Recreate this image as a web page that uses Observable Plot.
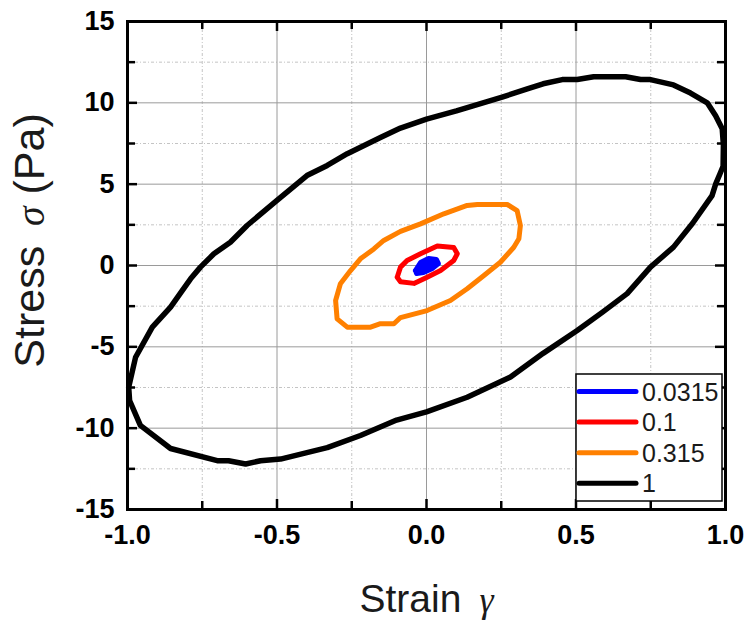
<!DOCTYPE html>
<html>
<head>
<meta charset="utf-8">
<script src="https://cdn.jsdelivr.net/npm/d3@7"></script>
<script src="https://cdn.jsdelivr.net/npm/@observablehq/plot@0.6"></script>
<style>
  body { margin: 0; background: #fff; }
  #chart { width: 749px; height: 621px; }
</style>
</head>
<body>
<div id="chart"></div>
<script>
// Strain amplitudes (legend labels) and their colours
const amplitudes = ["0.0315", "0.1", "0.315", "1"];
const colors = ["#0000ff", "#ff0000", "#ff8000", "#000000"];

// Lissajous loops: strain γ and stress σ (Pa) for each amplitude
const strain_0315 = [-0.037, -0.02, 0.007, 0.033, 0.04, 0.02, -0.01, -0.033];
const stress_0315 = [-0.31, 0.18, 0.43, 0.37, 0.12, -0.18, -0.43, -0.49];

const strain_01 = [-0.098, -0.087, -0.065, -0.02, 0.036, 0.091, 0.103, 0.091, 0.047, 0.002, -0.042, -0.087];
const stress_01 = [-0.72, -0.1, 0.31, 0.72, 1.2, 1.1, 0.72, 0.31, -0.31, -0.72, -1.1, -1.0];

const strain_0315b = [-0.087, -0.143, -0.176, -0.221, -0.254, -0.288, -0.304, -0.299, -0.265, -0.187, -0.154, -0.109, -0.087, 0.002, 0.08, 0.136, 0.192, 0.247, 0.292, 0.309, 0.314, 0.303, 0.27, 0.17, 0.136, 0.058, -0.02];
const stress_0315b = [2.1, 1.54, 1.02, 0.41, -0.31, -1.12, -2.15, -3.28, -3.79, -3.79, -3.58, -3.58, -3.2, -2.77, -2.15, -1.43, -0.61, 0.2, 1.12, 1.64, 2.46, 3.38, 3.75, 3.75, 3.69, 3.18, 2.56];

const strain_1 = [-0.996, -0.973, -0.917, -0.856, -0.817, -0.789, -0.756, -0.711, -0.656, -0.6, -0.5, -0.4, -0.332, -0.265, -0.154, -0.087, 0.0, 0.1, 0.253, 0.337, 0.39, 0.454, 0.504, 0.559, 0.666, 0.716, 0.749, 0.826, 0.883, 0.939, 0.967, 0.989, 0.993, 0.992, 0.983, 0.967, 0.955, 0.89, 0.826, 0.749, 0.671, 0.59, 0.504, 0.39, 0.281, 0.136, 0.0, -0.1, -0.221, -0.332, -0.4, -0.488, -0.555, -0.605, -0.662, -0.7, -0.856, -0.957, -0.993];
const stress_1 = [-7.48, -5.64, -3.79, -2.56, -1.54, -0.82, -0.1, 0.72, 1.43, 2.46, 4.0, 5.53, 6.15, 6.87, 7.87, 8.45, 9.0, 9.5, 10.35, 10.86, 11.17, 11.43, 11.43, 11.6, 11.6, 11.43, 11.43, 11.1, 10.6, 10.0, 9.2, 8.4, 7.4, 6.1, 5.7, 5.0, 4.3, 2.6, 1.13, -0.1, -1.73, -2.85, -4.0, -5.4, -6.86, -8.1, -9.0, -9.5, -10.45, -11.2, -11.5, -11.9, -12.0, -12.2, -12.0, -12.0, -11.25, -9.83, -8.3];

// Axis ticks and grid positions
const xTicks = [-1, -0.5, 0, 0.5, 1];
const xTickLabels = ["-1.0", "-0.5", "0.0", "0.5", "1.0"];
const xMinor = [-0.75, -0.25, 0.25, 0.75];
const xGrid = [-0.5, 0, 0.5];
const yTicks = [-15, -10, -5, 0, 5, 10, 15];
const yMinor = [-12.5, -7.5, -2.5, 2.5, 7.5, 12.5];
const yGrid = [-10, -5, 0, 5, 10];

// Closed loops, drawn largest first so the small ones sit on top
const series = [
  {amp: "1", strain: strain_1, stress: stress_1, width: 5.5, filled: false},
  {amp: "0.315", strain: strain_0315b, stress: stress_0315b, width: 5, filled: false},
  {amp: "0.1", strain: strain_01, stress: stress_01, width: 5, filled: false},
  {amp: "0.0315", strain: strain_0315, stress: stress_0315, width: 5, filled: true}
];
const colorOf = Object.fromEntries(amplitudes.map((a, i) => [a, colors[i]]));

const W = 749, H = 621;
const M = {top: 21, right: 24, bottom: 112, left: 127};
const innerW = W - M.left - M.right;
const innerH = H - M.top - M.bottom;

const loopMarks = series.map(s => {
  const rows = s.strain.map((x, i) => ({x, y: s.stress[i]}));
  rows.push(rows[0]);
  return Plot.line(rows, {
    x: "x", y: "y",
    stroke: colorOf[s.amp], strokeWidth: s.width,
    fill: s.filled ? colorOf[s.amp] : "none",
    strokeLinejoin: "round", strokeLinecap: "round"
  });
});

const plot = Plot.plot({
  width: W,
  height: H,
  marginTop: M.top, marginRight: M.right, marginBottom: M.bottom, marginLeft: M.left,
  style: {fontFamily: "'Liberation Sans', Arial, sans-serif", background: "#fff", color: "#000"},
  x: {domain: [-1, 1]},
  y: {domain: [-15, 15]},
  marks: [
    // grid: dotted minor lines, solid major lines
    Plot.ruleX(xMinor, {x: d => d, stroke: "#c4c4c4", strokeWidth: 1, strokeDasharray: "3,2,1,2"}),
    Plot.ruleY(yMinor, {y: d => d, stroke: "#c4c4c4", strokeWidth: 1, strokeDasharray: "3,2,1,2"}),
    Plot.ruleX(xGrid, {x: d => d, stroke: "#9a9a9a", strokeWidth: 1}),
    Plot.ruleY(yGrid, {y: d => d, stroke: "#9a9a9a", strokeWidth: 1}),
    // inward ticks on all four sides
    Plot.tickX(xTicks, {x: d => d, insetTop: innerH - 10, stroke: "#000", strokeWidth: 2.5}),
    Plot.tickX(xTicks, {x: d => d, insetBottom: innerH - 10, stroke: "#000", strokeWidth: 2.5}),
    Plot.tickX(xMinor, {x: d => d, insetTop: innerH - 8, stroke: "#000", strokeWidth: 2.5}),
    Plot.tickX(xMinor, {x: d => d, insetBottom: innerH - 8, stroke: "#000", strokeWidth: 2.5}),
    Plot.tickY(yTicks, {y: d => d, insetRight: innerW - 10, stroke: "#000", strokeWidth: 2.5}),
    Plot.tickY(yTicks, {y: d => d, insetLeft: innerW - 10, stroke: "#000", strokeWidth: 2.5}),
    Plot.tickY(yMinor, {y: d => d, insetRight: innerW - 8, stroke: "#000", strokeWidth: 2.5}),
    Plot.tickY(yMinor, {y: d => d, insetLeft: innerW - 8, stroke: "#000", strokeWidth: 2.5}),
    // tick labels
    Plot.axisX(xTicks, {tickSize: 0, tickPadding: 15, fontSize: 27, fontWeight: "bold", tickFormat: (d, i) => xTickLabels[i], label: null}),
    Plot.axisY(yTicks, {tickSize: 0, tickPadding: 13, fontSize: 27, fontWeight: "bold", tickFormat: d => String(d), label: null}),
    // data loops
    ...loopMarks,
    Plot.frame({stroke: "#000", strokeWidth: 3}),
    // axis titles
    Plot.text(["Strain γ"], {text: d => d, frameAnchor: "bottom", textAnchor: "middle", lineAnchor: "middle", dy: 90, fontSize: 39, fill: "#1a1a1a"}),
    Plot.text(["Stress σ (Pa)"], {text: d => d, frameAnchor: "left", textAnchor: "middle", lineAnchor: "middle", dx: -97, dy: -25, rotate: -90, fontSize: 43, fill: "#1a1a1a"})
  ]
});

const svg = d3.select(plot);

// Greek symbols in italic serif, set slightly apart from the word before them
svg.selectAll("text").each(function () {
  const t = this.textContent;
  if (!/[γσ]/.test(t) || this.querySelector("tspan")) return;
  const el = d3.select(this);
  el.text(null);
  t.split(/([γσ])/).forEach(part => {
    if (!part) return;
    const ts = el.append("tspan").text(part);
    if (/[γσ]/.test(part)) {
      ts.attr("font-style", "italic")
        .attr("font-family", "'Liberation Serif', 'Times New Roman', serif")
        .attr("font-size", "0.92em")
        .attr("dx", "0.2em");
    }
  });
});

// Legend box in the lower-right corner of the frame
const lg = svg.append("g").attr("transform", `translate(${M.left + innerW - 149},${M.top + innerH - 135})`)
  .attr("text-anchor", "start");
lg.append("rect").attr("x", 0).attr("y", 0).attr("width", 146).attr("height", 127)
  .attr("fill", "#fff").attr("stroke", "#000").attr("stroke-width", 1.5);
amplitudes.forEach((a, i) => {
  const cy = 17.5 + i * 30.6;
  lg.append("line").attr("x1", 3).attr("x2", 60).attr("y1", cy).attr("y2", cy)
    .attr("stroke", colors[i]).attr("stroke-width", 5).attr("stroke-linecap", "round");
  lg.append("text").attr("x", 66).attr("y", cy).attr("dy", "0.36em")
    .attr("font-size", 25).attr("fill", "#1a1a1a").text(a);
});

document.getElementById("chart").appendChild(plot);
</script>
</body>
</html>
